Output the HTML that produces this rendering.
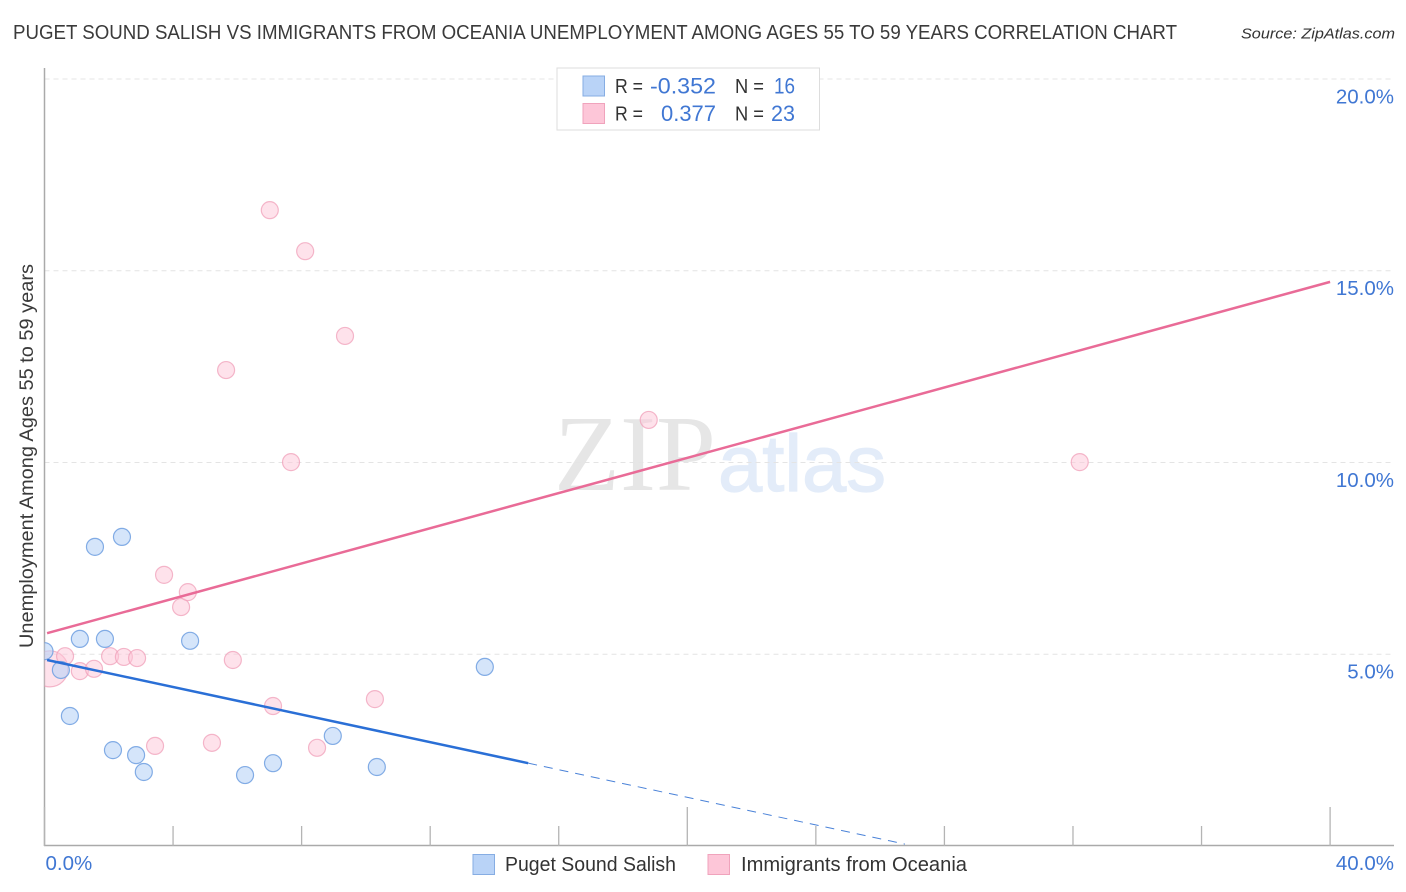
<!DOCTYPE html>
<html lang="en">
<head>
<meta charset="utf-8">
<title>Puget Sound Salish vs Immigrants from Oceania Unemployment Correlation Chart</title>
<style>
html,body{margin:0;padding:0;background:#fff;width:1406px;height:892px;overflow:hidden}
svg{display:block}
text{font-family:"Liberation Sans",sans-serif}
</style>
</head>
<body>
<svg id="chart" xmlns="http://www.w3.org/2000/svg" width="1406" height="892" viewBox="0 0 1406 892">
  <defs>
    <clipPath id="plot-clip"><rect x="44.5" y="60" width="1350" height="786"/></clipPath>
  </defs>
  <text x="13" y="39" font-size="20" fill="#3a3a3a" textLength="1164" lengthAdjust="spacingAndGlyphs">PUGET SOUND SALISH VS IMMIGRANTS FROM OCEANIA UNEMPLOYMENT AMONG AGES 55 TO 59 YEARS CORRELATION CHART</text>
  <text x="1241" y="38.500" font-size="15" font-style="italic" fill="#333" textLength="154" lengthAdjust="spacingAndGlyphs">Source: ZipAtlas.com</text>

  <g>
    <text x="554" y="490" font-size="108" fill="#e6e6e6" style="font-family:'Liberation Serif',serif" textLength="162" lengthAdjust="spacingAndGlyphs">ZIP</text>
    <text x="718" y="491" font-size="80" fill="#e3ecf9" stroke="#e3ecf9" stroke-width="1.200" textLength="168" lengthAdjust="spacingAndGlyphs">atlas</text>
  </g>

  <g id="grid"></g>
  <g id="axes"></g>
  <g id="y-labels"></g>
  <g id="x-labels"></g>
  <g id="pink-points" clip-path="url(#plot-clip)"></g>
  <g id="blue-points" clip-path="url(#plot-clip)"></g>
  <g id="trends"></g>

  <text transform="translate(33,456) rotate(-90)" text-anchor="middle" font-size="19" fill="#3a3a3a" textLength="384" lengthAdjust="spacingAndGlyphs">Unemployment Among Ages 55 to 59 years</text>

  <g>
    <rect x="557" y="68" width="262.500" height="62" fill="#fff" stroke="#ddd" stroke-width="1"/>
    <rect x="583" y="76" width="21.500" height="20" fill="#b9d3f7" stroke="#86ade3" stroke-width="1"/>
    <rect x="583" y="103.500" width="21.500" height="20" fill="#fdc6d8" stroke="#f0a3bc" stroke-width="1"/>
    <text x="615" y="93" font-size="20" fill="#333" textLength="28" lengthAdjust="spacingAndGlyphs">R =</text>
    <text x="716" y="93.500" text-anchor="end" font-size="22" fill="#4077d3" textLength="66" lengthAdjust="spacingAndGlyphs">-0.352</text>
    <text x="735" y="93" font-size="20" fill="#333" textLength="29" lengthAdjust="spacingAndGlyphs">N =</text>
    <text x="795" y="93.500" text-anchor="end" font-size="22" fill="#4077d3" textLength="21" lengthAdjust="spacingAndGlyphs">16</text>
    <text x="615" y="120.500" font-size="20" fill="#333" textLength="28" lengthAdjust="spacingAndGlyphs">R =</text>
    <text x="716" y="121" text-anchor="end" font-size="22" fill="#4077d3" textLength="55" lengthAdjust="spacingAndGlyphs">0.377</text>
    <text x="735" y="120.500" font-size="20" fill="#333" textLength="29" lengthAdjust="spacingAndGlyphs">N =</text>
    <text x="795" y="121" text-anchor="end" font-size="22" fill="#4077d3" textLength="24" lengthAdjust="spacingAndGlyphs">23</text>
  </g>

  <g>
    <g>
      <rect x="473" y="854.500" width="21.500" height="20" fill="#b9d3f7" stroke="#86ade3" stroke-width="1"/>
      <text x="505" y="871" font-size="20" fill="#333" textLength="171" lengthAdjust="spacingAndGlyphs">Puget Sound Salish</text>
    </g>
    <g>
      <rect x="708" y="854.500" width="21.500" height="20" fill="#fdc6d8" stroke="#f0a3bc" stroke-width="1"/>
      <text x="741" y="871" font-size="20" fill="#333" textLength="226" lengthAdjust="spacingAndGlyphs">Immigrants from Oceania</text>
    </g>
  </g>
</svg>
<script>
// ---- chart data ----
const yTickValues = [5, 10, 15, 20];
const yTickLabels = ["5.0%", "10.0%", "15.0%", "20.0%"];
const xTickValues = [0, 4, 8, 12, 16, 20, 24, 28, 32, 36, 40];
const xMajorTicks = [0, 20, 40];
const xEndValues = [0, 40];
const xEndLabels = ["0.0%", "40.0%"];

const salishX = [0.0, 0.51, 0.79, 1.10, 1.57, 1.88, 2.13, 2.41, 2.85, 3.09, 4.53, 6.24, 7.11, 8.97, 10.34, 13.70];
const salishY = [5.08, 4.59, 3.39, 5.40, 7.80, 5.40, 2.50, 8.06, 2.37, 1.93, 5.35, 1.85, 2.16, 2.87, 2.06, 4.67];

const oceaniaX = [0.17, 0.64, 1.10, 1.54, 2.04, 2.47, 2.88, 3.44, 3.72, 4.25, 4.46, 5.21, 5.65, 5.86, 7.01, 7.11, 7.67, 8.11, 8.48, 9.35, 10.28, 18.80, 32.21];
const oceaniaY = [4.62, 4.95, 4.56, 4.62, 4.95, 4.93, 4.90, 2.61, 7.07, 6.23, 6.62, 2.69, 12.41, 4.85, 16.58, 3.65, 10.01, 15.51, 2.56, 13.30, 3.83, 11.11, 10.01];
const oceaniaWeight = [4.5, 1, 1, 1, 1, 1, 1, 1, 1, 1, 1, 1, 1, 1, 1, 1, 1, 1, 1, 1, 1, 1, 1];

const salishTrendX = [0.08, 15.05];
const salishTrendY = [4.85, 2.16];
const salishProjectionX = [15.05, 26.77];
const salishProjectionY = [2.16, 0.05];
const oceaniaTrendX = [0.08, 40];
const oceaniaTrendY = [5.55, 14.71];

// ---- axis functions ----
function xScale(v) { return 44.5 + v * 32.14; }
function yScale(v) { return 846 - v * 38.35; }

const NS = 'http://www.w3.org/2000/svg';
function make(tag, parentId, attrs) {
  const el = document.createElementNS(NS, tag);
  Object.keys(attrs).forEach(function (k) { el.setAttribute(k, attrs[k]); });
  document.getElementById(parentId).appendChild(el);
  return el;
}

// gridlines and y labels
yTickValues.forEach(function (v, i) {
  const line = make('line', 'grid', {
    x1: 44.5, x2: 1394, y1: yScale(v), y2: yScale(v),
    stroke: '#e4e4e4', 'stroke-width': 1, 'stroke-dasharray': '5 4'
  });
  
  
  const label = make('text', 'y-labels', {
    x: 1394, y: yScale(v) + 24.3, 'text-anchor': 'end', 'font-size': 20.5, fill: '#4077d3'
  });
  label.textContent = yTickLabels[i];
  
  
});

// axis lines
const yAxisLine = make('line', 'axes', { x1: 44.5, x2: 44.5, y1: 68, y2: 846, stroke: '#aaa', 'stroke-width': 1.500 });


const xAxisLine = make('line', 'axes', { x1: 44, x2: 1394, y1: 845.500, y2: 845.500, stroke: '#aaa', 'stroke-width': 1.500 });



// x ticks
xTickValues.forEach(function (v) {
  const major = xMajorTicks.indexOf(v) !== -1;
  const tick = make('line', 'axes', {
    x1: xScale(v), x2: xScale(v), y1: major ? 807 : 826, y2: 846, stroke: '#b4b4b4', 'stroke-width': 1.300
  });
  
  
});

// x labels
xEndValues.forEach(function (v, i) {
  const label = make('text', 'x-labels', {
    x: i === 0 ? xScale(v) + 1 : 1394, y: 870, 'text-anchor': i === 0 ? 'start' : 'end',
    'font-size': 20.5, fill: '#4077d3'
  });
  label.textContent = xEndLabels[i];
  
  
});

// points
oceaniaX.forEach(function (v, i) {
  const c = make('circle', 'pink-points', {
    cx: xScale(v), cy: yScale(oceaniaY[i]), r: 8.500 * Math.sqrt(oceaniaWeight[i]),
    fill: '#fdc6d8', 'fill-opacity': 0.5, stroke: '#f0a0ba', 'stroke-opacity': 0.75, 'stroke-width': 1.200
  });
  
  
});
salishX.forEach(function (v, i) {
  const c = make('circle', 'blue-points', {
    cx: xScale(v), cy: yScale(salishY[i]), r: 8.500,
    fill: '#b9d3f7', 'fill-opacity': 0.6, stroke: '#6f9fe0', 'stroke-opacity': 0.85, 'stroke-width': 1.200
  });
  
  
});

// trends
const salishTrend = make('line', 'trends', {
  x1: xScale(salishTrendX[0]), y1: yScale(salishTrendY[0]), x2: xScale(salishTrendX[1]), y2: yScale(salishTrendY[1]),
  stroke: '#2a6fd6', 'stroke-width': 2.500
});


const salishProjection = make('line', 'trends', {
  x1: xScale(salishProjectionX[0]), y1: yScale(salishProjectionY[0]), x2: xScale(salishProjectionX[1]), y2: yScale(salishProjectionY[1]),
  stroke: '#4a82d8', 'stroke-width': 1, 'stroke-dasharray': '9 7'
});


const oceaniaTrend = make('line', 'trends', {
  x1: xScale(oceaniaTrendX[0]), y1: yScale(oceaniaTrendY[0]), x2: xScale(oceaniaTrendX[1]), y2: yScale(oceaniaTrendY[1]),
  stroke: '#e96b97', 'stroke-width': 2.500
});


</script>
</body>
</html>
